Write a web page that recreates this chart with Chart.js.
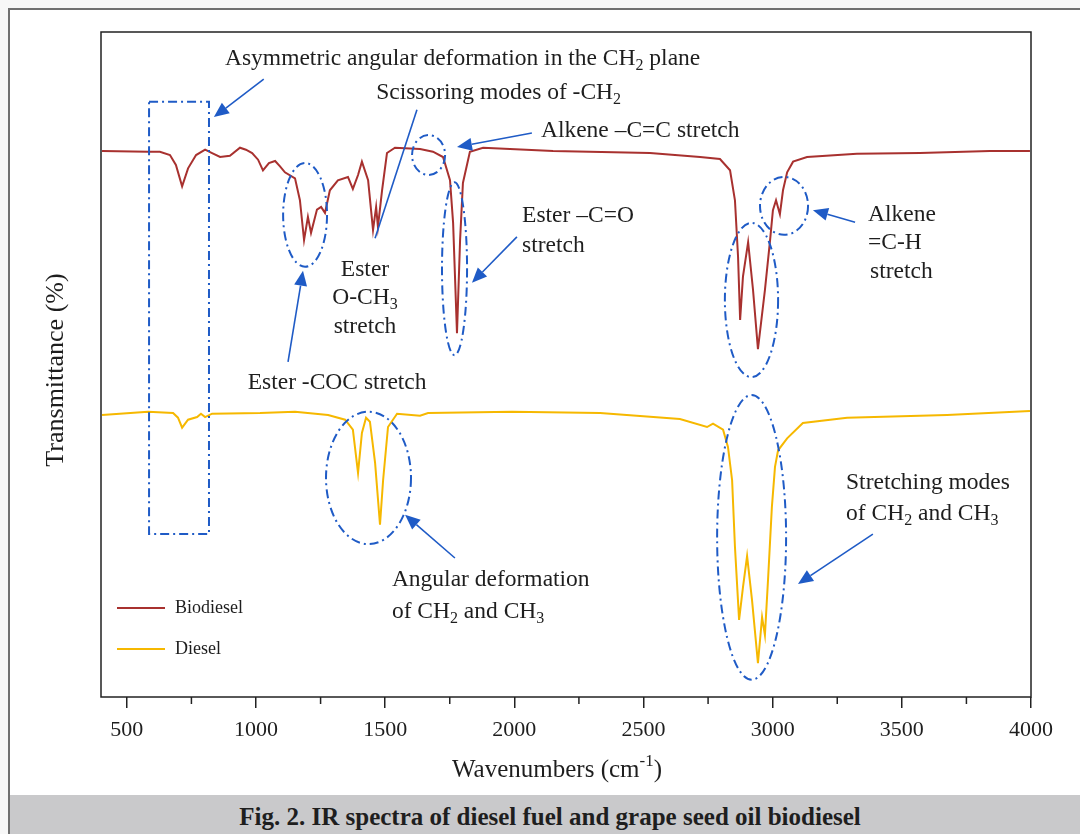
<!DOCTYPE html>
<html>
<head>
<meta charset="utf-8">
<script src="https://cdn.jsdelivr.net/npm/chart.js@4.4.0/dist/chart.umd.min.js"></script>
<style>
  body { margin: 0; background: #fff; }
  #wrap { position: relative; width: 1080px; height: 834px; overflow: hidden; background: #f7f7f7; }
  #frame { position: absolute; left: 8px; top: 8px; width: 1100px; height: 900px;
           border-left: 2px solid #707070; border-top: 2px solid #707070; background: #fff; }
  #spectra { position: absolute; left: 0; top: 0; }
  #caption { position: absolute; left: 10px; top: 795px; width: 1080px; height: 39px;
             background: #c9c9cb; color: #1e1e1e; text-align: center;
             font: bold 25px "Liberation Serif", serif; line-height: 43px; }
</style>
</head>
<body>
<div id="wrap">
  <div id="frame"></div>
  <canvas id="spectra" width="1080" height="795"></canvas>
  <div id="caption">Fig. 2. IR spectra of diesel fuel and grape seed oil biodiesel</div>
</div>
<script>
// spectra (wavenumber in cm-1, transmittance in arbitrary %)
const bioWavenumber = [404,582,628,667,690,714,737,768,803,830,861,899,938,961,985,1008,1027,1050,1074,1093,
  1112,1151,1170,1186,1201,1213,1236,1252,1267,1286,1317,1356,1375,1395,1410,1434,1453,1465,1472,1488,
  1507,1538,1635,1685,1724,1751,1763,1778,1790,1801,1828,1879,2150,2525,2719,2796,2835,2854,2866,2874,
  2885,2905,2924,2943,2970,2990,3001,3013,3028,3040,3056,3079,3133,3326,3570,3841,3996];
const bioTransmittance = [82.1,82.0,82.0,81.5,80.0,76.8,79.5,81.5,82.3,81.8,81.2,81.4,82.6,82.3,81.8,80.8,79.2,80.3,80.6,79.8,
  78.9,78.0,74.7,68.7,72.2,69.8,73.3,73.7,72.8,76.2,77.7,78.2,76.4,78.5,80.5,77.7,70.2,73.7,70.7,76.2,
  81.8,82.6,82.4,82.0,81.2,77.7,71.3,54.7,68.7,77.3,82.0,82.6,82.1,81.8,81.2,80.9,79.2,74.7,66.2,56.7,
  63.2,68.4,61.2,52.3,61.2,68.7,73.2,74.7,72.6,76.2,78.9,80.5,81.2,81.7,81.8,82.1,82.1];

const dieselWavenumber = [404,582,679,698,714,737,772,787,803,830,1016,1151,1279,1345,1375,1395,1410,1426,1441,1461,
  1480,1492,1511,1546,1635,1666,1991,2332,2641,2746,2769,2808,2827,2843,2854,2870,2885,2901,2920,2943,
  2959,2970,2982,2997,3009,3021,3056,3117,3288,3675,3996];
const dieselTransmittance = [42.4,42.9,42.7,42.0,40.5,41.7,42.1,42.6,42.1,42.6,42.7,42.9,42.4,41.7,40.2,33.7,39.7,42.0,41.4,35.2,
  25.9,32.6,40.6,42.6,42.3,42.7,42.9,42.7,41.8,40.6,41.1,40.2,37.6,32.6,22.6,11.6,16.5,21.2,14.6,5.1,
  12.0,9.3,17.6,28.6,34.6,37.1,38.9,41.2,42.0,42.4,43.0];

const seriesNames = ['Biodiesel', 'Diesel'];
const xTicks = [500,750,1000,1250,1500,1750,2000,2250,2500,2750,3000,3250,3500,3750,4000];

const SERIF = '"Liberation Serif", "Times New Roman", serif';
const BLUE = '#1f5bc6';
const COLORS = ['#a8312f', '#f6b800'];

// annotation shapes, in data units (wavenumber, transmittance)
const boxes = [{ x1: 586, x2: 818, y1: 24.5, y2: 89.5 }];
const ellipses = [
  { x1: 1604, x2: 1732, y1: 78.5, y2: 84.5 },
  { x1: 1720, x2: 1817, y1: 51.4, y2: 77.4 },
  { x1: 2815, x2: 3021, y1: 48.1, y2: 71.3 },
  { x1: 2951, x2: 3137, y1: 69.5, y2: 78.2 },
  { x1: 1105, x2: 1275, y1: 64.7, y2: 80.3 },
  { x1: 1271, x2: 1600, y1: 23.0, y2: 42.9 },
  { x1: 2785, x2: 3052, y1: 2.6, y2: 45.4 }
];
const arrows = [
  { from: [1030, 92.9], to: [837, 87.2], head: true },
  { from: [1623, 88.3], to: [1461, 69.0], head: false },
  { from: [2068, 84.8], to: [1778, 82.7], head: true },
  { from: [2010, 69.2], to: [1836, 62.3], head: true },
  { from: [3319, 71.4], to: [3156, 73.2], head: true },
  { from: [1124, 50.4], to: [1182, 64.1], head: true },
  { from: [1770, 20.9], to: [1577, 27.4], head: true },
  { from: [3388, 24.5], to: [3098, 17.0], head: true }
];
const labels = [
  { text: 'Asymmetric angular deformation in the CH_2 plane', x: 880, y: 96.0, align: 'left' },
  { text: 'Scissoring modes of -CH_2', x: 1465, y: 90.8, align: 'left' },
  { text: 'Alkene \u2013C=C stretch', x: 2103, y: 85.1, align: 'left' },
  { text: 'Ester \u2013C=O', x: 2030, y: 72.3, align: 'left' },
  { text: 'stretch', x: 2030, y: 67.8, align: 'left' },
  { text: 'Alkene', x: 3369, y: 72.5, align: 'left' },
  { text: '=C-H', x: 3369, y: 68.3, align: 'left' },
  { text: 'stretch', x: 3377, y: 63.9, align: 'left' },
  { text: 'Ester', x: 1422, y: 64.2, align: 'center' },
  { text: 'O-CH_3', x: 1422, y: 60.0, align: 'center' },
  { text: 'stretch', x: 1422, y: 55.6, align: 'center' },
  { text: 'Ester -COC stretch', x: 1314, y: 47.2, align: 'center' },
  { text: 'Angular deformation', x: 1526, y: 17.6, align: 'left' },
  { text: 'of CH_2 and CH_3', x: 1526, y: 12.8, align: 'left' },
  { text: 'Stretching modes', x: 3284, y: 32.2, align: 'left' },
  { text: 'of CH_2 and CH_3', x: 3284, y: 27.5, align: 'left' }
];

// small helper for text with sub/superscripts: "CH_2", "cm^{-1}"
function parseRich(s) {
  const parts = [];
  let buf = '', i = 0;
  while (i < s.length) {
    const c = s[i];
    if (c === '_' || c === '^') {
      if (buf) { parts.push({ t: buf, k: 0 }); buf = ''; }
      let t;
      if (s[i + 1] === '{') { const j = s.indexOf('}', i); t = s.slice(i + 2, j); i = j + 1; }
      else { t = s[i + 1]; i += 2; }
      parts.push({ t, k: c === '_' ? 1 : -1 });
    } else { buf += c; i++; }
  }
  if (buf) parts.push({ t: buf, k: 0 });
  return parts;
}

function drawRich(ctx, s, x, y, size, align) {
  const parts = parseRich(s);
  const small = Math.round(size * 0.66);
  let w = 0;
  parts.forEach(p => {
    ctx.font = (p.k ? small : size) + 'px ' + SERIF;
    p.w = ctx.measureText(p.t).width;
    w += p.w;
  });
  let cx = align === 'center' ? x - w / 2 : (align === 'right' ? x - w : x);
  ctx.textAlign = 'left';
  ctx.textBaseline = 'middle';
  parts.forEach(p => {
    ctx.font = (p.k ? small : size) + 'px ' + SERIF;
    const dy = p.k === 1 ? size * 0.3 : (p.k === -1 ? -size * 0.35 : 0);
    ctx.fillText(p.t, cx, y + dy);
    cx += p.w;
  });
}

const decorations = {
  id: 'decorations',
  afterDraw(chart) {
    const { ctx, chartArea: a, scales: { x, y } } = chart;
    const px = v => x.getPixelForValue(v);
    const py = v => y.getPixelForValue(v);
    ctx.save();

    // frame
    ctx.strokeStyle = '#222';
    ctx.lineWidth = 1.5;
    ctx.strokeRect(a.left, a.top, a.right - a.left, a.bottom - a.top);

    // minor ticks
    ctx.lineWidth = 1.5;
    xTicks.filter(v => v % 500 !== 0).forEach(v => {
      ctx.beginPath();
      ctx.moveTo(px(v), a.bottom);
      ctx.lineTo(px(v), a.bottom + 7);
      ctx.stroke();
    });

    // axis titles
    ctx.fillStyle = '#1e1e1e';
    drawRich(ctx, 'Wavenumbers (cm^{-1})', 557, 770, 25, 'center');
    ctx.save();
    ctx.translate(56, 370);
    ctx.rotate(-Math.PI / 2);
    drawRich(ctx, 'Transmittance (%)', 0, 0, 26, 'center');
    ctx.restore();

    // legend
    seriesNames.forEach((name, i) => {
      const ly = 608 + i * 41;
      ctx.strokeStyle = COLORS[i];
      ctx.lineWidth = 2;
      ctx.beginPath();
      ctx.moveTo(a.left + 16, ly);
      ctx.lineTo(a.left + 64, ly);
      ctx.stroke();
      ctx.fillStyle = '#1e1e1e';
      drawRich(ctx, name, a.left + 74, ly, 18, 'left');
    });

    // blue dash-dot outlines
    ctx.strokeStyle = BLUE;
    ctx.lineWidth = 2;
    ctx.setLineDash([9, 4, 2, 4]);
    boxes.forEach(b => {
      ctx.strokeRect(px(b.x1), py(b.y2), px(b.x2) - px(b.x1), py(b.y1) - py(b.y2));
    });
    ellipses.forEach(e => {
      const cx = (px(e.x1) + px(e.x2)) / 2, cy = (py(e.y1) + py(e.y2)) / 2;
      const rx = Math.abs(px(e.x2) - px(e.x1)) / 2, ry = Math.abs(py(e.y1) - py(e.y2)) / 2;
      ctx.beginPath();
      ctx.ellipse(cx, cy, rx, ry, 0, 0, Math.PI * 2);
      ctx.stroke();
    });
    ctx.setLineDash([]);

    // arrows
    ctx.fillStyle = BLUE;
    ctx.lineWidth = 1.6;
    arrows.forEach(ar => {
      const x0 = px(ar.from[0]), y0 = py(ar.from[1]);
      const x1 = px(ar.to[0]), y1 = py(ar.to[1]);
      const ang = Math.atan2(y1 - y0, x1 - x0);
      const hl = ar.head ? 15 : 0;
      ctx.beginPath();
      ctx.moveTo(x0, y0);
      ctx.lineTo(x1 - hl * Math.cos(ang), y1 - hl * Math.sin(ang));
      ctx.stroke();
      if (ar.head) {
        ctx.beginPath();
        ctx.moveTo(x1, y1);
        ctx.lineTo(x1 - hl * Math.cos(ang) + 6.5 * Math.sin(ang), y1 - hl * Math.sin(ang) - 6.5 * Math.cos(ang));
        ctx.lineTo(x1 - hl * Math.cos(ang) - 6.5 * Math.sin(ang), y1 - hl * Math.sin(ang) + 6.5 * Math.cos(ang));
        ctx.closePath();
        ctx.fill();
      }
    });

    // labels
    ctx.fillStyle = '#1e1e1e';
    labels.forEach(l => drawRich(ctx, l.text, px(l.x), py(l.y), 23.5, l.align));

    ctx.restore();
  }
};

const ctx = document.getElementById('spectra').getContext('2d');
new Chart(ctx, {
  type: 'line',
  data: {
    datasets: [
      {
        label: seriesNames[0],
        data: bioWavenumber.map((w, i) => ({ x: w, y: bioTransmittance[i] })),
        borderColor: COLORS[0],
        borderWidth: 2,
        pointRadius: 0,
        tension: 0,
        fill: false
      },
      {
        label: seriesNames[1],
        data: dieselWavenumber.map((w, i) => ({ x: w, y: dieselTransmittance[i] })),
        borderColor: COLORS[1],
        borderWidth: 2,
        pointRadius: 0,
        tension: 0,
        fill: false
      }
    ]
  },
  options: {
    responsive: false,
    animation: false,
    devicePixelRatio: 1,
    layout: { padding: { left: 101, right: 49, top: 32, bottom: 0 } },
    plugins: {
      legend: { display: false },
      tooltip: { enabled: false }
    },
    scales: {
      x: {
        type: 'linear',
        min: 400,
        max: 4000,
        afterBuildTicks: axis => { axis.ticks = xTicks.map(v => ({ value: v })); },
        afterFit: axis => { axis.height = 98; },
        border: { display: false },
        grid: {
          drawOnChartArea: false,
          drawTicks: true,
          tickLength: 11,
          lineWidth: 1.5,
          color: c => (c.tick && c.tick.value % 500 === 0) ? '#222' : 'rgba(0,0,0,0)'
        },
        ticks: {
          autoSkip: false,
          maxRotation: 0,
          padding: 9,
          color: '#1e1e1e',
          font: { family: SERIF, size: 22 },
          callback: v => (v % 500 === 0 ? String(v) : '')
        }
      },
      y: {
        display: false,
        min: 0,
        max: 100
      }
    }
  },
  plugins: [decorations]
});
</script>
</body>
</html>
